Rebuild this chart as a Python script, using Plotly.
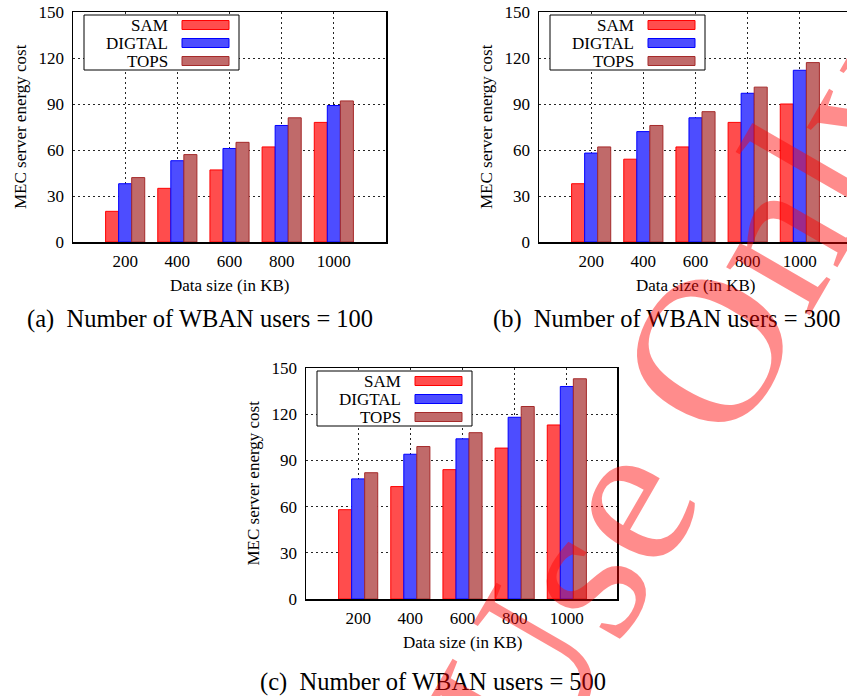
import plotly.graph_objects as go

# ---------------- data ----------------
categories = ["200", "400", "600", "800", "1000"]
series_names = ["SAM", "DIGTAL", "TOPS"]

sam_100 = [20, 35, 47, 62, 78]
digtal_100 = [38, 53, 61, 76, 89]
tops_100 = [42, 57, 65, 81, 92]

sam_300 = [38, 54, 62, 78, 90]
digtal_300 = [58, 72, 81, 97, 112]
tops_300 = [62, 76, 85, 101, 117]

sam_500 = [58, 73, 84, 98, 113]
digtal_500 = [78, 94, 104, 118, 138]
tops_500 = [82, 99, 108, 125, 143]

y_ticks = [0, 30, 60, 90, 120, 150]
captions = ["(a)&nbsp; Number of WBAN users = 100",
            "(b)&nbsp; Number of WBAN users = 300",
            "(c)&nbsp; Number of WBAN users = 500"]
x_title = "Data size (in KB)"
y_title = "MEC server energy cost"
watermark = "Use Only"

# ---------------- styles ----------------
W, H = 847, 696
FONT = "Liberation Serif, Times New Roman, serif"
fills = ["rgb(255,77,77)", "rgb(77,77,255)", "rgb(192,106,106)"]
borders = ["rgb(255,0,0)", "rgb(0,0,255)", "rgb(165,42,42)"]

# panel boxes in page pixels: (left, right, top, bottom)
panels = [
    (73, 386, 12, 242),
    (539, 847, 12, 242),
    (306, 617, 368, 599),
]
unit_px = 313 / 6.0  # px per category unit

data_sets = [
    (sam_100, digtal_100, tops_100),
    (sam_300, digtal_300, tops_300),
    (sam_500, digtal_500, tops_500),
]

fig = go.Figure()
layout = dict(
    template="none",
    width=W, height=H, autosize=False,
    margin=dict(l=0, r=0, t=0, b=0, pad=0),
    paper_bgcolor="white", plot_bgcolor="white",
    barmode="group", bargap=0.25, bargroupgap=0.0,
    showlegend=False,
    font=dict(family=FONT, size=17, color="black"),
)

shapes = []
annotations = []

def px_x(x):
    return min(max(x / W, 0.0), 1.0)

def px_y(y):
    return min(max(1 - y / H, 0.0), 1.0)

for i, (sets, (l, r, t, b)) in enumerate(zip(data_sets, panels)):
    sfx = "" if i == 0 else str(i + 1)
    xa, ya = "x" + sfx, "y" + sfx
    for name, vals, fc, lc in zip(series_names, sets, fills, borders):
        fig.add_trace(go.Bar(
            x=categories, y=vals, name=name,
            marker=dict(color=fc, line=dict(color=lc, width=1)),
            xaxis=xa, yaxis=ya,
        ))
    range_w = (r - l) / unit_px
    layout["xaxis" + sfx] = dict(
        domain=[px_x(l), px_x(r)], anchor=ya, type="category",
        range=[-1, -1 + range_w], automargin=False,
        showgrid=True, gridcolor="rgba(0,0,0,0.85)", gridwidth=1, griddash="2px,3px",
        showline=True, linecolor="black", linewidth=1.5, mirror=True,
        ticks="", ticklabelstandoff=3, ticklabeloverflow="allow",
        tickfont=dict(family=FONT, size=17, color="black"),
        zeroline=False,
    )
    layout["yaxis" + sfx] = dict(
        domain=[px_y(b), px_y(t)], anchor=xa,
        range=[0, 150], tickvals=y_ticks, automargin=False,
        showgrid=True, gridcolor="rgba(0,0,0,0.85)", gridwidth=1, griddash="2px,3px",
        showline=True, linecolor="black", linewidth=1.5, mirror=(i != 1),
        ticks="", ticklabelstandoff=4, ticklabeloverflow="allow",
        tickfont=dict(family=FONT, size=17, color="black"),
        zeroline=False,
    )

    # custom gnuplot-style legend (positions in px relative to panel)
    xd = xa + " domain"
    yd = ya + " domain"
    pw, ph = (r - l), (b - t)
    fw = lambda dx: dx / pw
    fh = lambda dy: 1 - dy / ph
    shapes.append(dict(type="rect", xref=xd, yref=yd,
                       x0=fw(11), x1=fw(166), y0=fh(58), y1=fh(3),
                       fillcolor="white", line=dict(color="black", width=1),
                       layer="above"))
    for k, (name, fc, lc) in enumerate(zip(series_names, fills, borders)):
        cy = 13 + 18 * k
        shapes.append(dict(type="rect", xref=xd, yref=yd,
                           x0=fw(109), x1=fw(156), y0=fh(cy + 4.5), y1=fh(cy - 4.5),
                           fillcolor=fc, line=dict(color=lc, width=1),
                           layer="above"))
        annotations.append(dict(xref=xd, yref=yd, x=fw(97), y=fh(cy),
                                text=name, showarrow=False,
                                xanchor="right", yanchor="middle",
                                font=dict(family=FONT, size=17, color="black")))

    # axis titles
    annotations.append(dict(xref="paper", yref="paper",
                            x=px_x(l - 53), y=px_y((t + b) / 2),
                            text=y_title, textangle=-90, showarrow=False,
                            xanchor="center", yanchor="middle",
                            font=dict(family=FONT, size=17, color="black")))
    annotations.append(dict(xref="paper", yref="paper",
                            x=px_x(l + 313 / 2), y=px_y(b + 43),
                            text=x_title, showarrow=False,
                            xanchor="center", yanchor="middle",
                            font=dict(family=FONT, size=17, color="black")))

# captions
cap_pos = [(200, 319), (666, 319), (433, 682)]
for cap, (cx, cy) in zip(captions, cap_pos):
    annotations.append(dict(xref="paper", yref="paper", x=px_x(cx), y=px_y(cy),
                            text=cap, showarrow=False,
                            xanchor="center", yanchor="middle",
                            font=dict(family=FONT, size=24.5, color="black")))

# watermark
annotations.append(dict(xref="paper", yref="paper", x=px_x(680), y=px_y(398),
                        text=watermark, textangle=-60, showarrow=False,
                        xanchor="center", yanchor="middle",
                        font=dict(family=FONT, size=210, color="rgba(255,0,0,0.45)")))

layout["shapes"] = shapes
layout["annotations"] = annotations
fig.update_layout(**layout)
fig.write_html("out.html",
               config={"staticPlot": True, "displayModeBar": False},
               post_script="document.body.style.margin='0';document.body.style.overflow='hidden';")
